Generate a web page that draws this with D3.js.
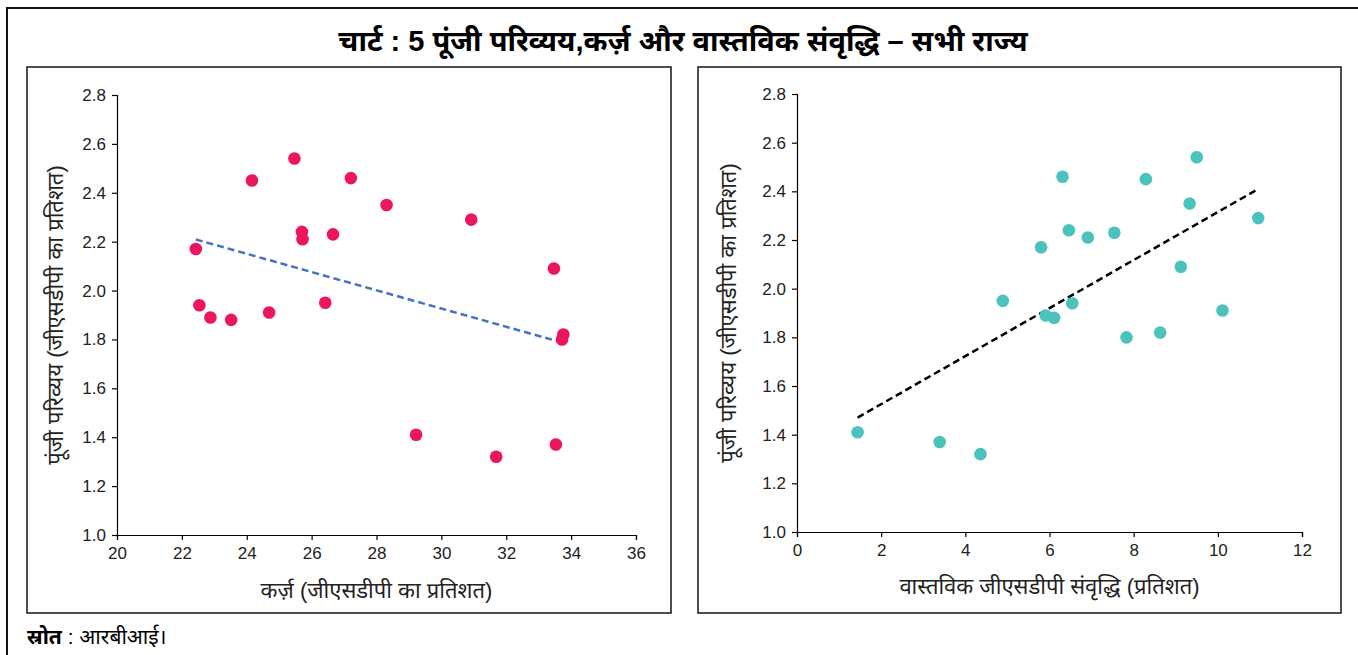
<!DOCTYPE html>
<html><head><meta charset="utf-8">
<script src="https://cdn.jsdelivr.net/npm/d3@7"></script>
<style>
html,body{margin:0;padding:0;background:#fff;}
svg{display:block;}
text{font-family:"Liberation Sans","Noto Sans","Noto Sans Devanagari",sans-serif;}
</style></head>
<body>
<script>
// Data: one entry per state
const debt    = [22.43,22.54,22.88,23.52,24.16,24.69,25.47,25.70,25.72,26.42,26.66,27.21,28.31,30.92,33.47,33.76,33.72,29.22,31.69,33.53];
const capex   = [2.17,1.94,1.89,1.88,2.45,1.91,2.54,2.24,2.21,1.95,2.23,2.46,2.35,2.29,2.09,1.82,1.80,1.41,1.32,1.37];
const growth  = [5.80,6.54,5.91,6.11,8.29,10.11,9.50,6.46,6.91,4.89,7.54,6.31,9.33,10.96,9.12,8.63,7.83,1.44,4.36,3.39];
const yTicks = [1.0,1.2,1.4,1.6,1.8,2.0,2.2,2.4,2.6,2.8];
const xTicksLeft = [20,22,24,26,28,30,32,34,36];
const xTicksRight = [0,2,4,6,8,10,12];
const title = "चार्ट : 5 पूंजी परिव्यय,कर्ज़ और वास्तविक संवृद्धि – सभी राज्य";
const yLabel = "पूंजी परिव्यय (जीएसडीपी का प्रतिशत)";
const xLabelLeft = "कर्ज़ (जीएसडीपी का प्रतिशत)";
const xLabelRight = "वास्तविक जीएसडीपी संवृद्धि (प्रतिशत)";

const W = 1358, H = 655;
const svg = d3.select("body").append("svg").attr("width", W).attr("height", H);

// outer frame
svg.append("rect").attr("x",7).attr("y",8).attr("width",1400).attr("height",700)
  .attr("fill","none").attr("stroke","#111").attr("stroke-width",2);

svg.append("text").attr("x",683).attr("y",51).attr("text-anchor","middle")
  .attr("font-size",29).attr("font-weight","bold").attr("fill","#000").text(title);

// source
const src = svg.append("text").attr("x",27).attr("y",644).attr("font-size",21).attr("fill","#000");
src.append("tspan").attr("font-weight","bold").text("स्रोत");
src.append("tspan").text(" : आरबीआई।");

function regression(xs, ys){
  const n = xs.length, mx = d3.mean(xs), my = d3.mean(ys);
  let sxy=0, sxx=0;
  for(let i=0;i<n;i++){ sxy += (xs[i]-mx)*(ys[i]-my); sxx += (xs[i]-mx)**2; }
  const b = sxy/sxx; return {a: my - b*mx, b};
}

function panel(opt){
  const g = svg.append("g");
  g.append("rect").attr("x",opt.box[0]).attr("y",opt.box[1]).attr("width",opt.box[2]).attr("height",opt.box[3])
    .attr("fill","#fff").attr("stroke","#222").attr("stroke-width",1.6);
  const x = d3.scaleLinear().domain(opt.xDomain).range(opt.xRange);
  const y = d3.scaleLinear().domain([1.0,2.8]).range(opt.yRange);
  const yAx = g.append("g").attr("transform",`translate(${opt.xRange[0]},0)`)
    .call(d3.axisLeft(y).tickValues(yTicks).tickFormat(d3.format(".1f")).tickSizeOuter(0).tickSize(5).tickPadding(6));
  const xAx = g.append("g").attr("transform",`translate(0,${opt.yRange[0]})`)
    .call(d3.axisBottom(x).tickValues(opt.xTicks).tickFormat(d3.format("d")).tickSizeOuter(0).tickSize(5).tickPadding(7));
  [yAx,xAx].forEach(a=>{
    a.selectAll("text").attr("font-size",17).attr("fill","#222")
      .attr("font-family","'Liberation Sans',sans-serif");
    a.selectAll("line,path").attr("stroke","#000").attr("stroke-width",1.2);
  });
  // trendline
  const r = regression(opt.xs, capex);
  const x0 = d3.min(opt.xs), x1 = d3.max(opt.xs);
  g.append("line").attr("x1",x(x0)).attr("y1",y(r.a+r.b*x0)).attr("x2",x(x1)).attr("y2",y(r.a+r.b*x1))
    .attr("stroke",opt.lineColor).attr("stroke-width",2.5).attr("stroke-dasharray","7,4");
  g.selectAll("circle.pt").data(opt.xs.map((v,i)=>[v,capex[i]])).enter().append("circle")
    .attr("cx",d=>x(d[0])).attr("cy",d=>y(d[1])).attr("r",6.3).attr("fill",opt.color);
  g.append("text").attr("transform",`translate(${opt.yLabelX},${(opt.yRange[0]+opt.yRange[1])/2}) rotate(-90)`)
    .attr("text-anchor","middle").attr("font-size",22).attr("fill","#222").text(yLabel);
  g.append("text").attr("x",(opt.xRange[0]+opt.xRange[1])/2).attr("y",opt.xLabelY)
    .attr("text-anchor","middle").attr("font-size",22).attr("fill","#222").text(opt.xLabel);
}

panel({box:[27,67,644,546], xDomain:[20,36], xRange:[117,636], yRange:[535,95], xTicks:xTicksLeft,
  xs:debt, color:"#EC1561", lineColor:"#4472C4", yLabelX:63, xLabelY:598, xLabel:xLabelLeft});
panel({box:[698,67,643,546], xDomain:[0,12], xRange:[797,1302], yRange:[532,94], xTicks:xTicksRight,
  xs:growth, color:"#4BC3BC", lineColor:"#000", yLabelX:736, xLabelY:594, xLabel:xLabelRight});
</script>
</body></html>
